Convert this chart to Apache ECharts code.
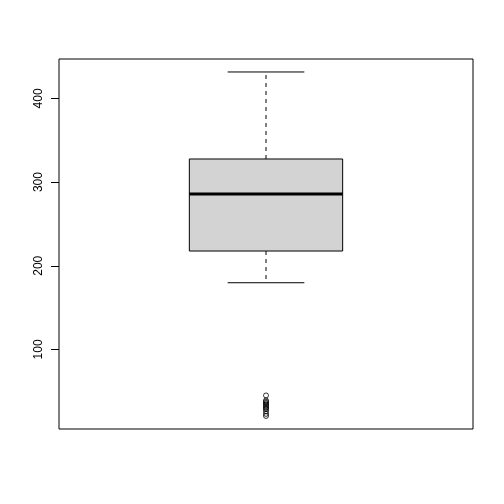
<!DOCTYPE html>
<html><head><meta charset="utf-8">
<script src="https://cdn.jsdelivr.net/npm/echarts@6/dist/echarts.min.js"></script>
<style>html,body{margin:0;padding:0;background:#fff}#c{width:504px;height:504px}</style>
</head><body><div id="c"></div>
<script>
const stats = [179.7, 217.6, 285.7, 327.6, 431.6]; // lower whisker, Q1, median, Q3, upper whisker
const outliers = [45, 39, 37.5, 36, 34.5, 33, 31.5, 30, 28.5, 26, 23, 20.5];
const yTicks = [100, 200, 300, 400];
const yRange = [4.9, 447.1];

const chart = echarts.init(document.getElementById('c'), null, {renderer: 'canvas'});
chart.setOption({
  animation: false,
  backgroundColor: '#fff',
  grid: {left: 59, top: 59, right: 31, bottom: 75, show: true, borderColor: '#000', borderWidth: 1, backgroundColor: 'transparent'},
  xAxis: {type: 'value', min: 0.46, max: 1.54, show: false},
  yAxis: {
    type: 'value', min: yRange[0], max: yRange[1],
    splitLine: {show: false},
    axisLine: {show: false},
    axisTick: {show: true, length: 8, lineStyle: {color: '#000'}, customValues: yTicks},
    axisLabel: {customValues: yTicks, rotate: 90, margin: 14, color: '#000', fontFamily: 'Liberation Sans, Arial', fontSize: 12}
  },
  series: [
    {
      type: 'custom',
      data: [[1].concat(stats)],
      renderItem: function (params, api) {
        const x = api.value(0);
        const lo = api.coord([x, api.value(1)]);
        const q1 = api.coord([x, api.value(2)]);
        const med = api.coord([x, api.value(3)]);
        const q3 = api.coord([x, api.value(4)]);
        const hi = api.coord([x, api.value(5)]);
        const bl = api.coord([x - 0.2, 0])[0], br = api.coord([x + 0.2, 0])[0];
        const cl = api.coord([x - 0.1, 0])[0], cr = api.coord([x + 0.1, 0])[0];
        const cx = lo[0];
        const ls = {stroke: '#000', lineWidth: 1};
        return {type: 'group', children: [
          {type: 'line', shape: {x1: cx, y1: q3[1], x2: cx, y2: hi[1]}, style: {stroke: '#000', lineWidth: 1, lineDash: [4, 4]}},
          {type: 'line', shape: {x1: cx, y1: q1[1], x2: cx, y2: lo[1]}, style: {stroke: '#000', lineWidth: 1, lineDash: [4, 4]}},
          {type: 'line', shape: {x1: cl, y1: hi[1], x2: cr, y2: hi[1]}, style: ls},
          {type: 'line', shape: {x1: cl, y1: lo[1], x2: cr, y2: lo[1]}, style: ls},
          {type: 'rect', shape: {x: bl, y: q3[1], width: br - bl, height: q1[1] - q3[1]}, style: {fill: '#d3d3d3', stroke: '#000', lineWidth: 1}},
          {type: 'line', shape: {x1: bl, y1: med[1], x2: br, y2: med[1]}, style: {stroke: '#000', lineWidth: 3}}
        ]};
      }
    },
    {
      type: 'scatter',
      data: outliers.map(v => [1, v]),
      symbol: 'circle', symbolSize: 5,
      itemStyle: {color: 'transparent', borderColor: '#000', borderWidth: 1}
    }
  ]
});
</script>
</body></html>
